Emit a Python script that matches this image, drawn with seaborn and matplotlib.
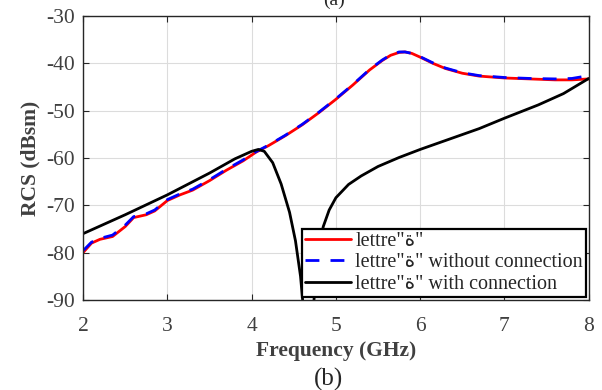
import numpy as np
import pandas as pd
import matplotlib
matplotlib.use('Agg')
import matplotlib.pyplot as plt
import seaborn as sns

# valeurs
freq_a = [2.0, 2.1, 2.2, 2.35, 2.5, 2.6, 2.75, 2.85, 3.0, 3.15, 3.3, 3.5, 3.7, 3.9, 4.05, 4.2, 4.4,
          4.6, 4.8, 5.0, 5.2, 5.4, 5.55, 5.65, 5.75, 5.82, 5.9, 6.0, 6.15, 6.3, 6.5, 6.7, 7.0,
          7.3, 7.6, 7.8, 8.0]
rcs_lettre = [-80.0, -78.0, -77.2, -76.6, -74.5, -72.6, -72.0, -71.2, -69.0, -67.8, -66.8, -64.8,
              -62.6, -60.6, -58.8, -57.4, -55.3, -53.0, -50.4, -47.6, -44.6, -41.4, -39.4, -38.3,
              -37.7, -37.6, -37.9, -38.7, -40.0, -41.1, -42.1, -42.7, -43.1, -43.3, -43.5, -43.5,
              -43.3]
rcs_sans_connexion = [-79.6, -77.8, -77.0, -76.3, -74.2, -72.4, -71.8, -71.0, -68.8, -67.6, -66.6,
                      -64.6, -62.4, -60.4, -58.7, -57.3, -55.2, -52.9, -50.3, -47.5, -44.5, -41.3,
                      -39.3, -38.2, -37.6, -37.6, -37.9, -38.6, -39.9, -41.0, -42.0, -42.6, -43.0,
                      -43.2, -43.3, -43.2, -42.6]

freq_b = [2.0, 2.5, 3.0, 3.5, 3.8, 4.0, 4.08, 4.15, 4.25, 4.35, 4.45, 4.52, 4.58, 4.63, 4.67,
          4.72, 4.76, 4.8, 4.85, 4.92, 5.0, 5.15, 5.3, 5.5, 5.75, 6.0, 6.35, 6.7, 7.0, 7.4,
          7.7, 8.0]
rcs_connexion = [-76.0, -72.0, -67.8, -63.2, -60.2, -58.6, -58.2, -58.6, -61.0, -65.5, -71.5,
                 -77.5, -85.0, -95.0, -105.0, -95.0, -85.0, -78.5, -74.5, -71.0, -68.4, -65.6,
                 -63.8, -61.8, -59.9, -58.2, -56.0, -53.8, -51.6, -48.8, -46.4, -43.2]

lettre = "\u0629"
labels = [f'lettre"{lettre}"', f'lettre"{lettre}" without connection',
          f'lettre"{lettre}" with connection']

sns.set_style('ticks')
plt.rcParams['font.family'] = ['Liberation Serif', 'DejaVu Sans']
plt.rcParams['axes.unicode_minus'] = False

fig, ax = plt.subplots(figsize=(6.02, 3.9), dpi=100)
fig.subplots_adjust(left=0.138, right=0.978, top=0.959, bottom=0.231)

df_a = pd.DataFrame({'f': freq_a, 'l': rcs_lettre, 's': rcs_sans_connexion})
df_b = pd.DataFrame({'f': freq_b, 'c': rcs_connexion})

sns.lineplot(data=df_a, x='f', y='l', ax=ax, color='#ff0000', lw=2, label=labels[0])
sns.lineplot(data=df_a, x='f', y='s', ax=ax, color='#0000ff', lw=2, label=labels[1],
             dashes=False)
ax.lines[-1].set_dashes([5, 4])
sns.lineplot(data=df_b, x='f', y='c', ax=ax, color='black', lw=2, label=labels[2])

ax.set_xlim(2, 8)
ax.set_ylim(-90, -30)
ax.set_xticks(range(2, 9))
ax.set_yticks(range(-90, -29, 10))
ax.grid(True, color='#dcdcdc', lw=0.8)
ax.set_axisbelow(True)
ax.tick_params(direction='in', top=True, right=True, labelsize=15.5, labelcolor='#404040',
               colors='#262626', length=4, width=0.8)
ax.tick_params(axis='x', pad=12)
ax.tick_params(axis='y', pad=6)
for s in ax.spines.values():
    s.set_color('#262626')
    s.set_linewidth(1.0)

ax.set_xlabel('Frequency (GHz)', fontsize=15.5, fontweight='bold', color='#404040', labelpad=4)
ax.set_ylabel('RCS (dBsm)', fontsize=15.5, fontweight='bold', color='#404040', labelpad=4)

leg = ax.legend(loc='lower right', fontsize=14.5, frameon=True, fancybox=False,
                framealpha=1, edgecolor='black', borderpad=0.15, labelspacing=0.12,
                handlelength=2.3, handletextpad=0.2, borderaxespad=0.15)
leg.get_frame().set_linewidth(1.6)
for t in leg.get_texts():
    t.set_color('#262626')

fig.text(0.545, 0.012, '(b)', ha='center', fontsize=18)
fig.text(0.555, 1.0, '(a)', ha='center', va='center', fontsize=14)

fig.savefig('out.png', dpi=100)
